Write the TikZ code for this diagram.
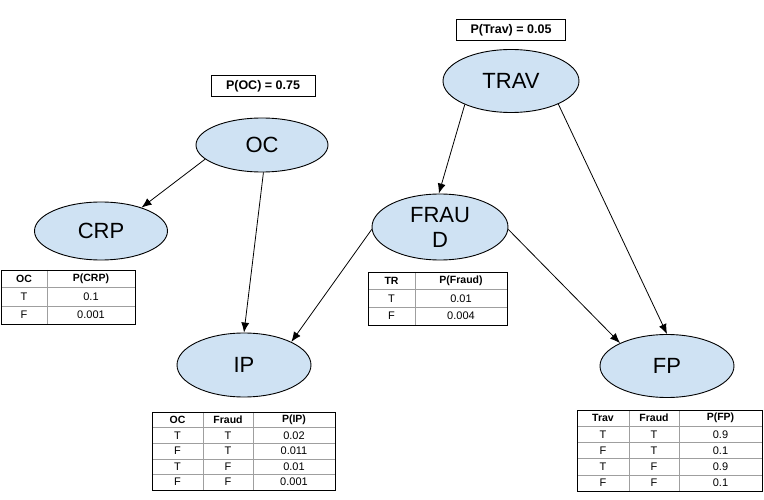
\documentclass[tikz,border=0pt]{standalone}
\usepackage{fontspec}
\setmainfont{Liberation Sans}
\usetikzlibrary{arrows.meta,shapes.geometric}
\definecolor{nodeblue}{HTML}{CFE2F3}
\begin{document}
\begin{tikzpicture}[x=1pt,y=-1pt,
  var/.style={ellipse,draw,fill=nodeblue,line width=0.9pt,inner sep=0pt,align=center,font=\fontsize{22}{25}\selectfont},
  edge/.style={-{Latex[length=10pt,width=8pt]},line width=0.8pt},
  prior/.style={draw,line width=0.9pt,minimum height=21pt,inner sep=0pt,font=\bfseries\fontsize{12.5}{15}\selectfont},
  outer/.style={draw=black,line width=0.8pt},
  inner/.style={draw=gray!75,line width=0.6pt},
  hd/.style={inner sep=0pt,font=\bfseries\fontsize{10.5}{12}\selectfont},
  cell/.style={inner sep=0pt,font=\fontsize{11}{13}\selectfont}]
\useasboundingbox[fill=white] (0,0) rectangle (764,500);

% variables
\node[var,minimum width=132pt,minimum height=54pt] (oc) at (262,145) {OC};
\node[var,minimum width=133pt,minimum height=58pt] (crp) at (101,231) {CRP};
\node[var,minimum width=134pt,minimum height=64pt] (ip) at (244,365) {IP};
\node[var,minimum width=136pt,minimum height=66pt] (fraud) at (440,227) {FRAU\\D};
\node[var,minimum width=136pt,minimum height=63pt] (trav) at (511,81) {TRAV};
\node[var,minimum width=134pt,minimum height=63pt] (fp) at (667,366) {FP};

% priors
\node[prior,minimum width=104pt] (poc) at (263,86) {P(OC) = 0.75};
\node[prior,minimum width=109pt] (ptrav) at (511,30) {P(Trav) = 0.05};

% edges
\draw[edge] (oc.194) -- (crp.30);
\draw[edge] (oc.273) -- (ip.90);
\draw[edge] (trav.207) -- (fraud.92);
\draw[edge] (trav.334) -- (fp.90);
\draw[edge] (fraud.182) -- (ip.26);
\draw[edge] (fraud.358) -- (fp.154);

% CRP table
\draw[inner] (47,270) -- (47,324) (1,287) -- (135,287) (1,306) -- (135,306);
\draw[outer] (1,270) rectangle (135,324);
\node[hd] (crph1) at (24,278.5) {OC};
\node[hd] (crph2) at (91,278.5) {P(CRP)};
\node[cell] (crp11) at (24,296.5) {T};
\node[cell] (crp12) at (91,296.5) {0.1};
\node[cell] (crp21) at (24,315) {F};
\node[cell] (crp22) at (91,315) {0.001};

% FRAUD table
\draw[inner] (415,272) -- (415,325) (368,289.5) -- (507,289.5) (368,307) -- (507,307);
\draw[outer] (368,272) rectangle (507,325);
\node[hd] (frh1) at (391.5,280.75) {TR};
\node[hd] (frh2) at (461,280.75) {P(Fraud)};
\node[cell] (fr11) at (391.5,298.25) {T};
\node[cell] (fr12) at (461,298.25) {0.01};
\node[cell] (fr21) at (391.5,316) {F};
\node[cell] (fr22) at (461,316) {0.004};

% IP table
\foreach \k in {1,...,4}{\draw[inner] (152,{412+15.6*\k}) -- (335,{412+15.6*\k});}
\draw[inner] (203,412) -- (203,490) (253,412) -- (253,490);
\draw[outer] (152,412) rectangle (335,490);
\node[hd] (iph1) at (177.5,420) {OC};
\node[hd] (iph2) at (228,420) {Fraud};
\node[hd] (iph3) at (294,420) {P(IP)};
\foreach \a/\b/\c [count=\i] in {T/T/0.02,F/T/0.011,T/F/0.01,F/F/0.001}{
  \node[cell] (ip\i a) at (177.5,{412+15.6*\i+7.8}) {\a};
  \node[cell] (ip\i b) at (228,{412+15.6*\i+7.8}) {\b};
  \node[cell] (ip\i c) at (294,{412+15.6*\i+7.8}) {\c};
}

% FP table
\foreach \k in {1,...,4}{\draw[inner] (577,{410+16.2*\k}) -- (762,{410+16.2*\k});}
\draw[inner] (629,410) -- (629,491) (679,410) -- (679,491);
\draw[outer] (577,410) rectangle (762,491);
\node[hd] (fph1) at (603,418.1) {Trav};
\node[hd] (fph2) at (654,418.1) {Fraud};
\node[hd] (fph3) at (720.5,418.1) {P(FP)};
\foreach \a/\b/\c [count=\i] in {T/T/0.9,F/T/0.1,T/F/0.9,F/F/0.1}{
  \node[cell] (fp\i a) at (603,{410+16.2*\i+8.1}) {\a};
  \node[cell] (fp\i b) at (654,{410+16.2*\i+8.1}) {\b};
  \node[cell] (fp\i c) at (720.5,{410+16.2*\i+8.1}) {\c};
}
\end{tikzpicture}
\end{document}
